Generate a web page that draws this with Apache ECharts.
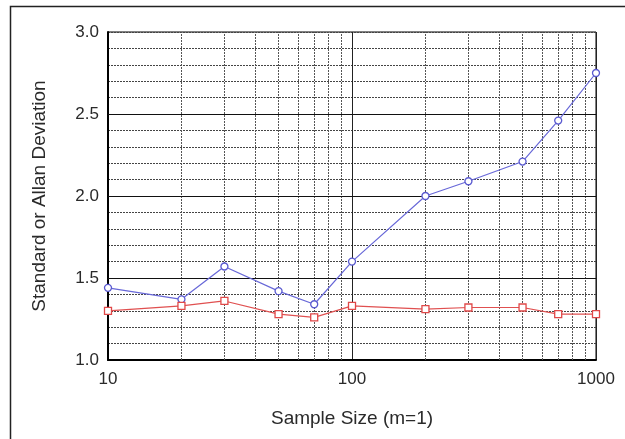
<!DOCTYPE html>
<html>
<head>
<meta charset="utf-8">
<script src="https://cdn.jsdelivr.net/npm/echarts@6/dist/echarts.min.js"></script>
<style>html,body{margin:0;padding:0;background:#fff}#c{width:625px;height:439px}</style>
</head>
<body>
<div id="c"></div>
<script>
const sampleSizes = [10, 20, 30, 50, 70, 100, 200, 300, 500, 700, 1000];
const blueValues = [1.44, 1.37, 1.57, 1.42, 1.34, 1.60, 2.00, 2.09, 2.21, 2.46, 2.75];
const redValues  = [1.30, 1.33, 1.36, 1.28, 1.26, 1.33, 1.31, 1.32, 1.32, 1.28, 1.28];
const xMinorGrid = [20, 30, 40, 50, 60, 70, 80, 90, 200, 300, 400, 500, 600, 700, 800, 900];
const yMajorGrid = [1.5, 2.0, 2.5];

const chart = echarts.init(document.getElementById('c'), null, {renderer: 'canvas'});
const pair = (xs, ys) => xs.map((x, i) => [x, ys[i]]);

chart.setOption({
  animation: false,
  backgroundColor: '#fff',
  graphic: [{
    type: 'rect', shape: {x: 10.5, y: 6.5, width: 700, height: 500},
    style: {fill: 'none', stroke: '#222', lineWidth: 1.5}, silent: true, z: -1
  }],
  grid: {left: 108, top: 32, right: 29, bottom: 79, show: true, borderColor: '#000', borderWidth: 1, backgroundColor: 'transparent'},
  xAxis: {
    type: 'log', logBase: 10, min: 10, max: 1000,
    name: 'Sample Size (m=1)', nameLocation: 'middle', nameGap: 49,
    nameTextStyle: {fontFamily: 'Liberation Sans', fontSize: 19, color: '#2a2a2a'},
    axisLine: {show: true, lineStyle: {color: '#000', width: 2}},
    axisTick: {show: false},
    axisLabel: {fontFamily: 'Liberation Sans', fontSize: 17, color: '#2a2a2a', margin: 11, formatter: v => String(v)},
    splitLine: {show: true, lineStyle: {color: '#222', width: 1}}
  },
  yAxis: {
    type: 'value', min: 1, max: 3, interval: 0.1,
    name: 'Standard or Allan Deviation', nameLocation: 'middle', nameGap: 59,
    nameTextStyle: {fontFamily: 'Liberation Sans', fontSize: 19, color: '#2a2a2a'},
    axisLine: {show: true, lineStyle: {color: '#000', width: 2}},
    axisTick: {show: false},
    axisLabel: {
      fontFamily: 'Liberation Sans', fontSize: 17, color: '#2a2a2a', margin: 9,
      formatter: v => (Math.abs(v * 2 - Math.round(v * 2)) < 1e-6 ? v.toFixed(1) : '')
    },
    splitLine: {show: true, lineStyle: {color: '#444', width: 1, type: [2, 1]}}
  },
  series: [
    {
      type: 'line', data: pair(sampleSizes, blueValues),
      symbol: 'circle', symbolSize: 7,
      itemStyle: {color: '#fff', borderColor: '#5a5ad0', borderWidth: 1.3},
      lineStyle: {color: '#6868d8', width: 1.2},
      z: 5,
      markLine: {
        silent: true, symbol: 'none', label: {show: false}, animation: false,
        lineStyle: {color: '#555', width: 1, type: [2, 1]},
        data: xMinorGrid.map(v => ({xAxis: v}))
      }
    },
    {
      type: 'line', data: pair(sampleSizes, redValues),
      symbol: 'rect', symbolSize: 7,
      itemStyle: {color: '#fff', borderColor: '#e04848', borderWidth: 1.3},
      lineStyle: {color: '#e05050', width: 1.2},
      z: 5,
      markLine: {
        silent: true, symbol: 'none', label: {show: false}, animation: false,
        lineStyle: {color: '#111', width: 1.2, type: 'solid'},
        data: yMajorGrid.map(v => ({yAxis: v}))
      }
    }
  ]
});
</script>
</body>
</html>
